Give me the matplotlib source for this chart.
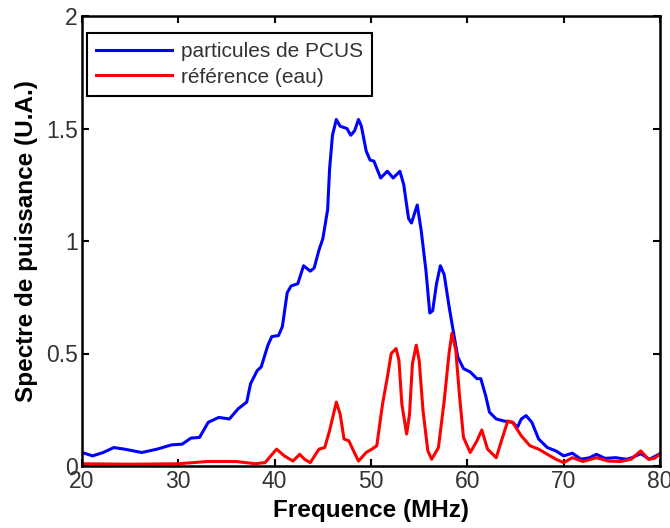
import matplotlib
matplotlib.use("Agg")
import matplotlib.pyplot as plt

plt.rcParams['font.family'] = ['Liberation Sans', 'DejaVu Sans']

# Blue: particules de PCUS
freq_pcus = [20.0, 21.1, 22.2, 23.3, 24.4, 26.2, 27.8, 29.3, 30.4, 31.3, 32.2, 33.1, 34.2, 35.3,
             36.2, 37.1, 37.5, 38.2, 38.6, 39.3, 39.7, 40.4, 40.8, 41.3, 41.7, 42.4, 43.0, 43.7,
             44.1, 44.6, 45.0, 45.5, 45.7, 46.0, 46.4, 46.8, 47.5, 47.9, 48.3, 48.7, 49.0, 49.5,
             49.9, 50.3, 51.0, 51.7, 52.3, 53.0, 53.4, 53.9, 54.2, 54.8, 55.2, 55.7, 56.1, 56.4,
             56.8, 57.2, 57.6, 58.1, 58.5, 59.0, 59.6, 60.3, 61.0, 61.4, 61.9, 62.3, 63.0, 63.8,
             64.7, 65.2, 65.6, 66.1, 66.7, 67.4, 68.3, 69.2, 70.0, 70.9, 71.8, 72.7, 73.4, 74.3,
             75.4, 76.5, 77.1, 78.0, 78.9, 79.8, 80.0]
val_pcus = [0.06, 0.045, 0.06, 0.082, 0.075, 0.06, 0.075, 0.094, 0.097, 0.124, 0.127, 0.194, 0.216, 0.209,
            0.254, 0.284, 0.366, 0.425, 0.44, 0.537, 0.575, 0.58, 0.62, 0.77, 0.80, 0.81, 0.89, 0.866,
            0.88, 0.96, 1.01, 1.14, 1.32, 1.47, 1.54, 1.51, 1.50, 1.47, 1.49, 1.54, 1.51, 1.40,
            1.36, 1.355, 1.28, 1.31, 1.28, 1.31, 1.25, 1.10, 1.08, 1.16, 1.05, 0.87, 0.68, 0.69,
            0.81, 0.89, 0.85, 0.71, 0.61, 0.485, 0.433, 0.418, 0.388, 0.388, 0.313, 0.239, 0.209, 0.20,
            0.194, 0.172, 0.209, 0.224, 0.194, 0.12, 0.082, 0.067, 0.045, 0.057, 0.03, 0.037, 0.052, 0.034,
            0.037, 0.03, 0.037, 0.055, 0.03, 0.05, 0.055]

# Red: référence (eau)
freq_ref = [20.0, 25.0, 30.0, 33.0, 36.0, 38.0, 39.0, 40.2, 41.0, 41.9, 42.6, 43.1, 43.7, 44.6,
            45.2, 45.7, 46.4, 46.8, 47.2, 47.7, 48.1, 48.7, 49.5, 50.1, 50.6, 51.2, 51.7, 52.1,
            52.6, 52.9, 53.2, 53.7, 54.0, 54.3, 54.7, 55.0, 55.4, 55.9, 56.3, 57.0, 57.6, 58.1,
            58.4, 58.8, 59.2, 59.6, 60.3, 61.0, 61.5, 62.1, 63.0, 63.6, 64.2, 64.7, 65.6, 66.5,
            67.4, 68.3, 69.2, 70.0, 70.9, 72.0, 73.4, 74.6, 75.9, 77.0, 78.0, 78.8, 79.4, 80.0]
val_ref = [0.01, 0.008, 0.01, 0.02, 0.02, 0.01, 0.015, 0.075, 0.045, 0.022, 0.052, 0.03, 0.015, 0.075,
           0.082, 0.157, 0.284, 0.23, 0.12, 0.112, 0.075, 0.022, 0.06, 0.075, 0.09, 0.276, 0.395, 0.50,
           0.522, 0.47, 0.276, 0.142, 0.23, 0.455, 0.537, 0.47, 0.246, 0.067, 0.03, 0.082, 0.29, 0.50,
           0.59, 0.515, 0.306, 0.127, 0.06, 0.112, 0.16, 0.075, 0.037, 0.12, 0.20, 0.194, 0.134, 0.09,
           0.075, 0.052, 0.03, 0.015, 0.037, 0.02, 0.037, 0.022, 0.02, 0.03, 0.067, 0.03, 0.034, 0.052]

x_ticks = [20, 30, 40, 50, 60, 70, 80]
y_ticks = [0, 0.5, 1, 1.5, 2]
y_tick_labels = ['0', '0.5', '1', '1.5', '2']

fig = plt.figure(figsize=(6.7, 5.28), dpi=100)
ax = fig.add_axes([82/670, 62/528, 578/670, 450/528])

ax.plot(freq_pcus, val_pcus, color='#0000ff', lw=2.2, label='particules de PCUS')
ax.plot(freq_ref, val_ref, color='#ff0000', lw=2.2, label='référence (eau)')

ax.set_xlim(20, 80)
ax.set_ylim(0, 2)
ax.set_xticks(x_ticks)
ax.set_yticks(y_ticks)
ax.set_yticklabels(y_tick_labels)
ax.tick_params(direction='in', length=5, width=1.5, top=True, right=True,
               labelsize=16.5, labelcolor='#333333', pad=3)
for s in ax.spines.values():
    s.set_linewidth(1.8)

ax.set_xlabel('Frequence (MHz)', fontsize=17.5, fontweight='bold', labelpad=4)
ax.set_ylabel('Spectre de puissance (U.A.)', fontsize=17.5, fontweight='bold', labelpad=6)

leg = ax.legend(loc='upper left', bbox_to_anchor=(5/578, 1 - 17/450), borderaxespad=0,
                fontsize=15, handlelength=3.65, fancybox=False, framealpha=1,
                edgecolor='black', borderpad=0.45, labelspacing=0.3, handletextpad=0.4)
leg.get_frame().set_linewidth(1.5)
for t in leg.get_texts():
    t.set_color('#333333')

fig.savefig('out.png', dpi=100)
